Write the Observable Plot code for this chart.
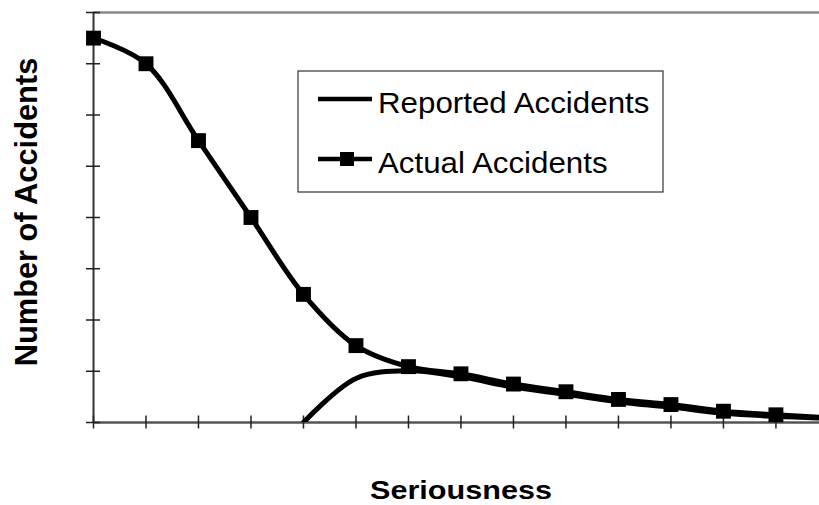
<!DOCTYPE html>
<html>
<head>
<meta charset="utf-8">
<script src="https://cdn.jsdelivr.net/npm/d3@7"></script>
<script src="https://cdn.jsdelivr.net/npm/@observablehq/plot@0.6"></script>
<style>
  html, body { margin: 0; padding: 0; background: #fff; }
  #wrap { position: relative; width: 819px; height: 505px; overflow: hidden; }
  #wrap svg { position: absolute; left: 0; top: 0; }
  text { font-family: "Liberation Sans", Arial, sans-serif; }
</style>
</head>
<body>
<div id="wrap"></div>
<script>
// ---- data ----
const seriousness = [0, 1, 2, 3, 4, 5, 6, 7, 8, 9, 10, 11, 12, 13, 14];
const actualAccidents = [7.5, 7.0, 5.5, 4.0, 2.5, 1.5, 1.09, 0.95, 0.75, 0.6, 0.45, 0.35, 0.22, 0.15, 0.09];
const reportedAccidents = [null, null, null, null, 0, 0.86, 1.01, 0.89, 0.69, 0.55, 0.4, 0.3, 0.18, 0.12, 0.08];
const xTicks = [0, 1, 2, 3, 4, 5, 6, 7, 8, 9, 10, 11, 12, 13];
const yTicks = [0, 1, 2, 3, 4, 5, 6, 7, 8];
const seriesNames = ["Reported Accidents", "Actual Accidents"];
const xLabel = "Seriousness";
const yLabel = "Number of Accidents";

const actualRows = seriousness.map((s, i) => ({s, v: actualAccidents[i]}));
const reportedRows = seriousness.map((s, i) => ({s, v: reportedAccidents[i]})).filter(d => d.v != null);

const W = 819, H = 505;
const mL = 93, mR = 0, mT = 12, mB = 83;
const xMax = 13.83, yMax = 8;
const pxPerX = (W - mL - mR) / xMax;
const pxPerY = (H - mT - mB) / yMax;
const xTickHalf = 6.5 / pxPerY;   // x-axis tick half length (data units of y)
const yTickHalf = 7 / pxPerX;     // y-axis tick half length (data units of x)

const chart = Plot.plot({
  width: W, height: H,
  marginLeft: mL, marginRight: mR, marginTop: mT, marginBottom: mB,
  style: {background: "white", overflow: "visible"},
  x: {domain: [0, xMax], axis: null},
  y: {domain: [0, yMax], axis: null},
  marks: [
    Plot.ruleY([yMax], {stroke: "#888", strokeWidth: 2.5}),
    Plot.ruleY([0], {stroke: "#555", strokeWidth: 2.5}),
    Plot.ruleX([0], {stroke: "#333", strokeWidth: 2}),
    Plot.ruleX(xTicks, {x: d => d, y1: -xTickHalf, y2: xTickHalf, stroke: "#222", strokeWidth: 1.5}),
    Plot.ruleY(yTicks, {y: d => d, x1: -yTickHalf, x2: yTickHalf, stroke: "#222", strokeWidth: 1.5}),
    Plot.line(actualRows, {x: "s", y: "v", curve: "catmull-rom", stroke: "black", strokeWidth: 5, clip: true}),
    Plot.line(reportedRows, {x: "s", y: "v", curve: "catmull-rom", stroke: "black", strokeWidth: 5, clip: true}),
    Plot.dot(actualRows.filter(d => d.s <= xMax), {x: "s", y: "v", symbol: "square", r: 8.4, fill: "black", stroke: "none"})
  ]
});
document.getElementById("wrap").appendChild(chart);

// ---- overlay: axis titles and legend ----
const ov = d3.select("#wrap").append("svg")
  .attr("width", W).attr("height", H)
  .style("pointer-events", "none");

ov.append("text")
  .attr("transform", "translate(37,212) rotate(-90)")
  .attr("text-anchor", "middle")
  .style("font-weight", "bold").style("font-size", "30.8px")
  .attr("fill", "black")
  .text(yLabel);

ov.append("text")
  .attr("transform", "translate(461,499) scale(1,0.86)")
  .attr("text-anchor", "middle")
  .style("font-weight", "bold").style("font-size", "30.6px")
  .attr("fill", "black")
  .text(xLabel);

const lg = ov.append("g");
lg.append("rect").attr("x", 298).attr("y", 71).attr("width", 365).attr("height", 121)
  .attr("fill", "white").attr("stroke", "#333").attr("stroke-width", 1.2);
const rowsY = [99, 159];
seriesNames.forEach((name, i) => {
  const y = rowsY[i];
  lg.append("line").attr("x1", 318).attr("x2", 372).attr("y1", y).attr("y2", y)
    .attr("stroke", "black").attr("stroke-width", 4.5);
  if (i === 1) {
    lg.append("rect").attr("x", 347 - 7).attr("y", y - 7).attr("width", 14).attr("height", 14).attr("fill", "black");
  }
  lg.append("text")
    .attr("transform", `translate(378,${y + 14}) scale(1,0.93)`)
    .style("font-size", "31.3px")
    .attr("fill", "black")
    .text(name);
});
</script>
</body>
</html>
